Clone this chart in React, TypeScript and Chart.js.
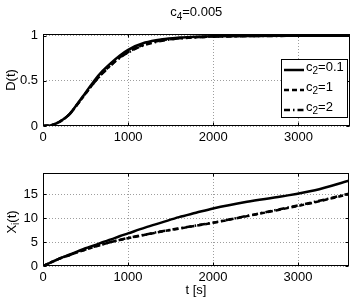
import React, { useEffect, useRef } from "react";
import { Chart, registerables } from "chart.js";

Chart.register(...registerables);

// ---- data ----
const TIME = [0, 100, 200, 300, 400, 500, 600, 700, 800, 900, 1000, 1200, 1400, 1600, 1800, 2000, 2400, 2800, 3200, 3600];

const D_C2_01 = [0, 0.01, 0.05, 0.12, 0.24, 0.37, 0.5, 0.61, 0.7, 0.78, 0.845, 0.925, 0.962, 0.98, 0.99, 0.995, 0.999, 1, 1, 1];
const D_C2_1 = [0, 0.01, 0.05, 0.12, 0.235, 0.36, 0.48, 0.59, 0.68, 0.76, 0.82, 0.905, 0.95, 0.972, 0.985, 0.992, 0.998, 1, 1, 1];
const D_C2_2 = [0, 0.01, 0.05, 0.12, 0.235, 0.36, 0.48, 0.585, 0.675, 0.755, 0.815, 0.9, 0.945, 0.97, 0.983, 0.99, 0.997, 0.999, 1, 1];

const X_C2_01 = [0, 0.8, 1.6, 2.3, 3.0, 3.7, 4.3, 4.95, 5.55, 6.2, 6.8, 8.0, 9.1, 10.2, 11.1, 12.0, 13.4, 14.5, 15.8, 17.8];
const X_C2_1 = [0, 0.8, 1.6, 2.2, 2.85, 3.4, 4.0, 4.5, 5.0, 5.4, 5.8, 6.5, 7.2, 7.8, 8.4, 9.0, 10.4, 11.8, 13.3, 15.0];
const X_C2_2 = [0, 0.8, 1.6, 2.2, 2.85, 3.45, 4.0, 4.5, 5.0, 5.45, 5.85, 6.55, 7.25, 7.85, 8.45, 9.05, 10.45, 11.9, 13.4, 15.1];

const T_TICKS = [0, 1000, 2000, 3000];
const D_TICKS = [0, 0.5, 1];
const XI_TICKS = [0, 5, 10, 15];

const SERIES_NAMES = ["c2=0.1", "c2=1", "c2=2"];
const LEGEND_SEGS = [
  [{ t: "c" }, { t: "2", sub: true }, { t: "=0.1" }],
  [{ t: "c" }, { t: "2", sub: true }, { t: "=1" }],
  [{ t: "c" }, { t: "2", sub: true }, { t: "=2" }],
];
const TITLE_SEGS = [{ t: "c" }, { t: "4", sub: true }, { t: "=0.005" }];
const XI_LABEL_SEGS = [{ t: "X" }, { t: "i", sub: true }, { t: "(t)" }];

const FONT = "'Liberation Sans', Arial, Helvetica, sans-serif";
const DASHES = [[], [5, 3], [6, 3, 1.5, 3]];

type Seg = { t: string; sub?: boolean };

function drawRich(ctx: CanvasRenderingContext2D, segs: Seg[], x: number, y: number, size: number, subSize: number, subDy: number, align: "left" | "center") {
  ctx.save();
  ctx.textBaseline = "alphabetic";
  ctx.textAlign = "left";
  ctx.fillStyle = "#000";
  let w = 0;
  for (const s of segs) {
    ctx.font = `${s.sub ? subSize : size}px ${FONT}`;
    w += ctx.measureText(s.t).width;
  }
  let cx = align === "center" ? x - w / 2 : x;
  for (const s of segs) {
    ctx.font = `${s.sub ? subSize : size}px ${FONT}`;
    ctx.fillText(s.t, cx, s.sub ? y + subDy : y);
    cx += ctx.measureText(s.t).width;
  }
  ctx.restore();
}

function framePlugin(xTicks: number[], yTicks: number[]) {
  return {
    id: "frame",
    afterDatasetsDraw(chart: any) {
      const { ctx, chartArea: a, scales } = chart;
      ctx.save();
      ctx.strokeStyle = "#000";
      ctx.lineWidth = 1;
      ctx.setLineDash([]);
      const L = Math.round(a.left) + 0.5;
      const R = Math.round(a.right) - 0.5;
      const T = Math.round(a.top) + 0.5;
      const B = Math.round(a.bottom) - 0.5;
      ctx.strokeRect(L, T, R - L, B - T);
      ctx.beginPath();
      for (const v of xTicks) {
        const px = Math.round(scales.x.getPixelForValue(v)) + 0.5;
        ctx.moveTo(px, B);
        ctx.lineTo(px, B - 3);
        ctx.moveTo(px, T);
        ctx.lineTo(px, T + 3);
      }
      for (const v of yTicks) {
        const py = Math.round(scales.y.getPixelForValue(v)) + 0.5;
        ctx.moveTo(L, py);
        ctx.lineTo(L + 3, py);
        ctx.moveTo(R, py);
        ctx.lineTo(R - 3, py);
      }
      ctx.stroke();
      ctx.restore();
    },
  };
}

const legendPlugin = {
  id: "matlabLegend",
  afterDraw(chart: any) {
    const { ctx } = chart;
    ctx.save();
    const bx = 281.5, by = 59.5, bw = 66, bh = 58;
    ctx.fillStyle = "#fff";
    ctx.fillRect(bx, by, bw, bh);
    ctx.strokeStyle = "#000";
    ctx.lineWidth = 1;
    ctx.setLineDash([]);
    ctx.strokeRect(bx, by, bw, bh);
    const rows = [70, 90, 110];
    rows.forEach((ry, i) => {
      const ds = chart.data.datasets[i];
      ctx.save();
      ctx.strokeStyle = "#000";
      ctx.lineWidth = ds.borderWidth;
      ctx.setLineDash(ds.borderDash || []);
      ctx.beginPath();
      ctx.moveTo(284, ry);
      ctx.lineTo(304, ry);
      ctx.stroke();
      ctx.restore();
      drawRich(ctx, LEGEND_SEGS[i], 306, ry + 1, 13, 10, 3, "left");
    });
    ctx.restore();
  },
};

const titlePlugin = {
  id: "richTitle",
  afterDraw(chart: any) {
    const a = chart.chartArea;
    drawRich(chart.ctx, TITLE_SEGS, (a.left + a.right) / 2, 16, 13, 10, 4, "center");
  },
};

const xiLabelPlugin = {
  id: "xiLabel",
  afterDraw(chart: any) {
    const { ctx } = chart;
    ctx.save();
    ctx.translate(16, 72);
    ctx.rotate(-Math.PI / 2);
    drawRich(ctx, XI_LABEL_SEGS, 0, 0, 13, 10, 3, "center");
    ctx.restore();
  },
};

function makeDatasets(series: number[][]) {
  return series.map((vals, i) => ({
    label: SERIES_NAMES[i],
    data: TIME.map((t, k) => ({ x: t, y: vals[k] })),
    borderColor: "#000",
    backgroundColor: "#000",
    borderWidth: 2.5,
    borderDash: DASHES[i],
    pointRadius: 0,
    cubicInterpolationMode: "monotone" as const,
    fill: false,
  }));
}

const tickFont = { family: FONT, size: 13 };

function baseX(afterH: number, title?: any) {
  return {
    type: "linear" as const,
    min: 0,
    max: 3600,
    afterBuildTicks: (s: any) => {
      s.ticks = T_TICKS.map((v) => ({ value: v }));
    },
    afterFit: (s: any) => {
      s.height = afterH;
    },
    ticks: { callback: (v: any) => String(v), font: tickFont, color: "#000", padding: 4, maxRotation: 0, autoSkip: false },
    grid: { color: "rgba(0,0,0,0.38)", drawTicks: false, lineWidth: 1 },
    border: { display: false, dash: [1, 2] },
    title: title || { display: false },
  };
}

function baseY(max: number, ticks: number[], title?: any) {
  return {
    type: "linear" as const,
    min: 0,
    max,
    afterBuildTicks: (s: any) => {
      s.ticks = ticks.map((v) => ({ value: v }));
    },
    afterFit: (s: any) => {
      s.width = 43;
    },
    ticks: { callback: (v: any) => String(v), font: tickFont, color: "#000", padding: 5, autoSkip: false },
    grid: { color: "rgba(0,0,0,0.38)", drawTicks: false, lineWidth: 1 },
    border: { display: false, dash: [1, 2] },
    title: title || { display: false },
  };
}

export default function App() {
  const topRef = useRef<HTMLCanvasElement>(null);
  const botRef = useRef<HTMLCanvasElement>(null);

  useEffect(() => {
    const top = new Chart(topRef.current as HTMLCanvasElement, {
      type: "line",
      data: { datasets: makeDatasets([D_C2_01, D_C2_1, D_C2_2]) as any },
      options: {
        animation: false,
        responsive: false,
        devicePixelRatio: 1,
        layout: { padding: { left: 0, top: 34, right: 4.5, bottom: 0 } },
        plugins: { legend: { display: false }, title: { display: false }, tooltip: { enabled: false } },
        scales: {
          x: baseX(24) as any,
          y: baseY(1.02, D_TICKS, {
            display: true,
            text: "D(t)",
            color: "#000",
            font: { family: FONT, size: 13 },
            padding: { top: 4, bottom: 0 },
          }) as any,
        },
      },
      plugins: [framePlugin(T_TICKS, D_TICKS), legendPlugin, titlePlugin],
    });

    const bot = new Chart(botRef.current as HTMLCanvasElement, {
      type: "line",
      data: { datasets: makeDatasets([X_C2_01, X_C2_1, X_C2_2]) as any },
      options: {
        animation: false,
        responsive: false,
        devicePixelRatio: 1,
        layout: { padding: { left: 0, top: 23, right: 5, bottom: 0 } },
        plugins: { legend: { display: false }, title: { display: false }, tooltip: { enabled: false } },
        scales: {
          x: baseX(33, {
            display: true,
            text: "t [s]",
            color: "#000",
            font: { family: FONT, size: 13 },
            padding: { top: 0, bottom: 1 },
          }) as any,
          y: baseY(19.4, XI_TICKS) as any,
        },
      },
      plugins: [framePlugin(T_TICKS, XI_TICKS), xiLabelPlugin],
    });

    return () => {
      top.destroy();
      bot.destroy();
    };
  }, []);

  return (
    <div style={{ position: "absolute", left: 0, top: 0, width: 354, height: 299, background: "#fff" }}>
      <canvas ref={topRef} width={354} height={150} style={{ position: "absolute", left: 0, top: 0, width: 354, height: 150 }} />
      <canvas ref={botRef} width={354} height={149} style={{ position: "absolute", left: 0, top: 150, width: 354, height: 149 }} />
    </div>
  );
}
